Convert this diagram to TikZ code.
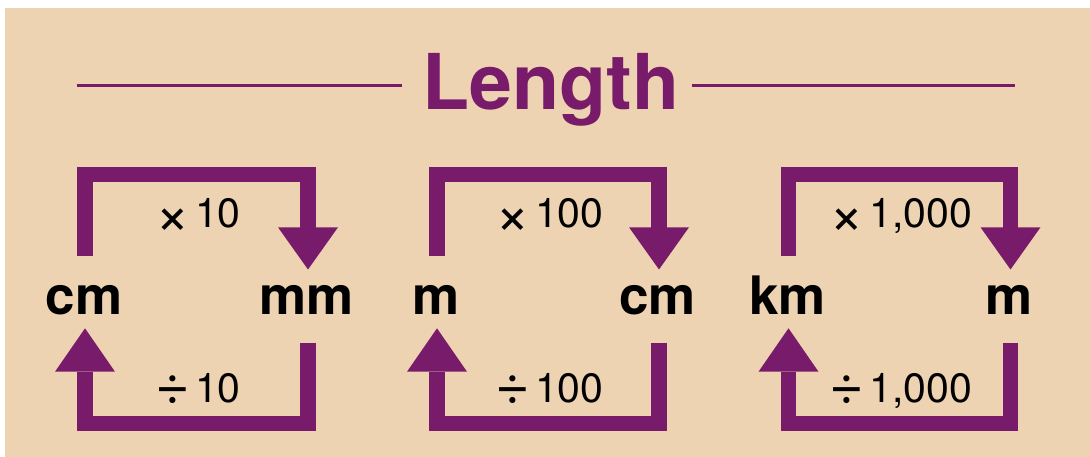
\documentclass[tikz,border=0pt]{standalone}
\usepackage{fontspec}
\setmainfont{TeX Gyre Heros}
\definecolor{bg}{HTML}{EED3B2}
\definecolor{plum}{HTML}{781B6B}
\newcommand\timesglyph{\raisebox{-7pt}{\scalebox{1.45}{×}}}
\newcommand\divglyph{\raisebox{-2.5pt}{\scalebox{1.45}{÷}}}
\newcommand\convgroup[6]{%
  % #1 prefix, #2 left x, #3 right x, #4 left unit, #5 right unit, #6 factor
  \node[unit] (#1l) at ({#2-1},314) {#4};
  \node[unit] (#1r) at ({#3-1.5},314) {#5};
  \node[factor] (#1t) at ({(#2+#3)/2+1.5},228) {\timesglyph\kern5pt#6};
  \node[factor] (#1b) at ({(#2+#3)/2+1.5},402) {\divglyph\kern5pt#6};
  \coordinate (#1a) at (#2,256);
  \coordinate (#1c) at (#3,228);
  \coordinate (#1d) at (#3,342.7);
  \coordinate (#1e) at (#2,372);
  % top connector: left unit -> right unit
  \draw[bar] (#1a) |- (#3,174.5) -- (#1c);
  \fill[plum] ({#3-30},227.3) -- ({#3+30},227.3) -- (#3,269.5) -- cycle;
  % bottom connector: right unit -> left unit
  \draw[bar] (#1d) |- (#2,423.3) -- (#1e);
  \fill[plum] ({#2-30},371.7) -- ({#2+30},371.7) -- (#2,328.3) -- cycle;
}
\begin{document}
\begin{tikzpicture}[x=1pt,y=-1pt,
  bar/.style={draw=plum,line width=15.3pt,line cap=butt,line join=miter},
  rule/.style={draw=plum,line width=3pt},
  unit/.style={font=\fontsize{53}{60}\selectfont\bfseries,anchor=base,inner sep=0pt,text=black},
  factor/.style={font=\fontsize{41}{48}\selectfont,anchor=base,inner sep=0pt,text=black},
  titlestyle/.style={font=\fontsize{77}{88}\selectfont\bfseries,anchor=base,inner sep=0pt,text=plum}]
\useasboundingbox (0,0) rectangle (1090,457);
\fill[bg] (5,8) rectangle (1090,457);
% title
\node[titlestyle] (title) at (550.8,110) {Length};
\coordinate (rl1) at (76.7,86);
\coordinate (rl2) at (401.7,86);
\coordinate (rr1) at (691.7,86);
\coordinate (rr2) at (1015,86);
\draw[rule] (rl1) -- (rl2);
\draw[rule] (rr1) -- (rr2);
% groups
\convgroup{g1}{85}{308}{cm}{mm}{10}
\convgroup{g2}{437}{659}{m}{cm}{100}
\convgroup{g3}{788.5}{1010.5}{km}{m}{1,000}
\end{tikzpicture}
\end{document}
